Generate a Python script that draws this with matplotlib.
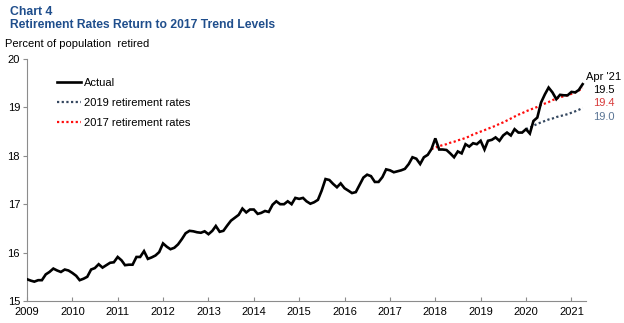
import numpy as np
import pandas as pd
import matplotlib
matplotlib.use("Agg")
import matplotlib.pyplot as plt
import matplotlib.dates as mdates

plt.rcParams['font.family'] = ['Liberation Sans', 'DejaVu Sans']

# monthly share of population retired, Jan 2009 - Apr 2021
actual = [
    15.45, 15.42, 15.40, 15.43, 15.43, 15.55, 15.60, 15.67, 15.63, 15.60, 15.65, 15.63,  # 2009
    15.58, 15.52, 15.43, 15.46, 15.50, 15.65, 15.68, 15.76, 15.69, 15.74, 15.79, 15.80,  # 2010
    15.91, 15.84, 15.74, 15.75, 15.75, 15.91, 15.91, 16.03, 15.87, 15.90, 15.94, 16.01,  # 2011
    16.19, 16.12, 16.07, 16.10, 16.17, 16.28, 16.40, 16.45, 16.44, 16.42, 16.41, 16.44,  # 2012
    16.38, 16.45, 16.55, 16.43, 16.45, 16.56, 16.66, 16.72, 16.78, 16.91, 16.83, 16.89,  # 2013
    16.89, 16.80, 16.82, 16.86, 16.84, 16.99, 17.06, 17.00, 17.00, 17.06, 17.00, 17.13,  # 2014
    17.11, 17.13, 17.06, 17.01, 17.04, 17.09, 17.28, 17.52, 17.50, 17.42, 17.35, 17.43,  # 2015
    17.33, 17.28, 17.23, 17.25, 17.40, 17.55, 17.61, 17.58, 17.46, 17.46, 17.56, 17.72,  # 2016
    17.70, 17.66, 17.68, 17.70, 17.73, 17.83, 17.97, 17.94, 17.83, 17.97, 18.02, 18.14,  # 2017
    18.36, 18.13, 18.13, 18.12, 18.05, 17.97, 18.09, 18.05, 18.24, 18.19, 18.26, 18.24,  # 2018
    18.31, 18.13, 18.31, 18.33, 18.38, 18.31, 18.42, 18.48, 18.42, 18.55, 18.48, 18.48,  # 2019
    18.55, 18.46, 18.72, 18.79, 19.10, 19.27, 19.41, 19.31, 19.17, 19.26, 19.25, 19.25,  # 2020
    19.32, 19.31, 19.36, 19.48,                                                          # 2021
]
# counterfactual with 2017 retirement rates, Dec 2017 - Apr 2021
rates_2017 = [
    18.14, 18.17, 18.20, 18.22, 18.24, 18.27, 18.29, 18.32, 18.34, 18.37, 18.40, 18.44, 18.47,
    18.50, 18.53, 18.56, 18.59, 18.62, 18.66, 18.69, 18.73, 18.77, 18.81, 18.85, 18.88,
    18.92, 18.95, 18.98, 19.01, 19.05, 19.08, 19.11, 19.15, 19.18, 19.21, 19.23, 19.25,
    19.28, 19.31, 19.35, 19.40,
]
# counterfactual with 2019 retirement rates, Jan 2020 - Apr 2021
rates_2019 = [
    18.55, 18.58, 18.62, 18.66, 18.69, 18.72, 18.75, 18.77, 18.80, 18.82, 18.84, 18.86,
    18.89, 18.92, 18.95, 18.99,
]

dates = pd.date_range("2009-01-01", periods=len(actual), freq="MS")
dates_2017 = pd.date_range("2017-12-01", periods=len(rates_2017), freq="MS")
dates_2019 = pd.date_range("2020-01-01", periods=len(rates_2019), freq="MS")

title_col = "#1f4e8c"
blue_col = "#34475f"
blue_txt = "#5a7595"
red_col = "#ff0d0d"
red_txt = "#d83a3a"
spine_col = "#8c8c8c"

fig = plt.figure(figsize=(6.24, 3.23), dpi=100)
ax = fig.add_axes([27/624, 1 - 301/323, (586 - 27)/624, (301 - 59)/323])

ax.plot(dates, actual, color="black", lw=1.9, label="Actual", solid_joinstyle="miter", zorder=3)
ax.plot(dates_2019, rates_2019, color=blue_col, lw=1.6, ls=(0, (1, 1.1)), label="2019 retirement rates", zorder=2)
ax.plot(dates_2017, rates_2017, color=red_col, lw=1.6, ls=(0, (1, 1.1)), label="2017 retirement rates", zorder=2)

ax.set_ylim(15, 20)
ax.set_yticks([15, 16, 17, 18, 19, 20])
ax.set_xlim(pd.Timestamp("2009-01-01"), pd.Timestamp("2021-04-28"))
ax.xaxis.set_major_locator(mdates.YearLocator())
ax.xaxis.set_major_formatter(mdates.DateFormatter("%Y"))

for s in ["top", "right"]:
    ax.spines[s].set_visible(False)
for s in ["left", "bottom"]:
    ax.spines[s].set_color(spine_col)
    ax.spines[s].set_linewidth(0.8)
ax.tick_params(axis="y", direction="out", length=3, color=spine_col, labelsize=8, pad=2)
ax.tick_params(axis="x", direction="in", length=3, color=spine_col, labelsize=8, pad=4)

leg = ax.legend(loc="upper left", bbox_to_anchor=(0.045, 0.94), frameon=False, fontsize=8,
                handlelength=2.2, handletextpad=0.25, labelspacing=0.9, borderaxespad=0)

fig.text(10/624, 1 - 12/323, "Chart 4", color=title_col, fontsize=8.8, fontweight="bold", va="center")
fig.text(10/624, 1 - 25/323, "Retirement Rates Return to 2017 Trend Levels", color=title_col,
         fontsize=8.7, fontweight="bold", va="center")
fig.text(5/624, 1 - 44/323, "Percent of population  retired", fontsize=8, va="center")

fig.text(621/624, 1 - 77/323, "Apr '21", fontsize=8, ha="right", va="center")
fig.text(615/624, 1 - 90/323, "%.1f" % actual[-1], fontsize=8, ha="right", va="center")
fig.text(615/624, 1 - 103/323, "%.1f" % rates_2017[-1], fontsize=8, ha="right", va="center", color=red_txt)
fig.text(615/624, 1 - 117/323, "%.1f" % rates_2019[-1], fontsize=8, ha="right", va="center", color=blue_txt)

fig.savefig("out.png", dpi=100)
